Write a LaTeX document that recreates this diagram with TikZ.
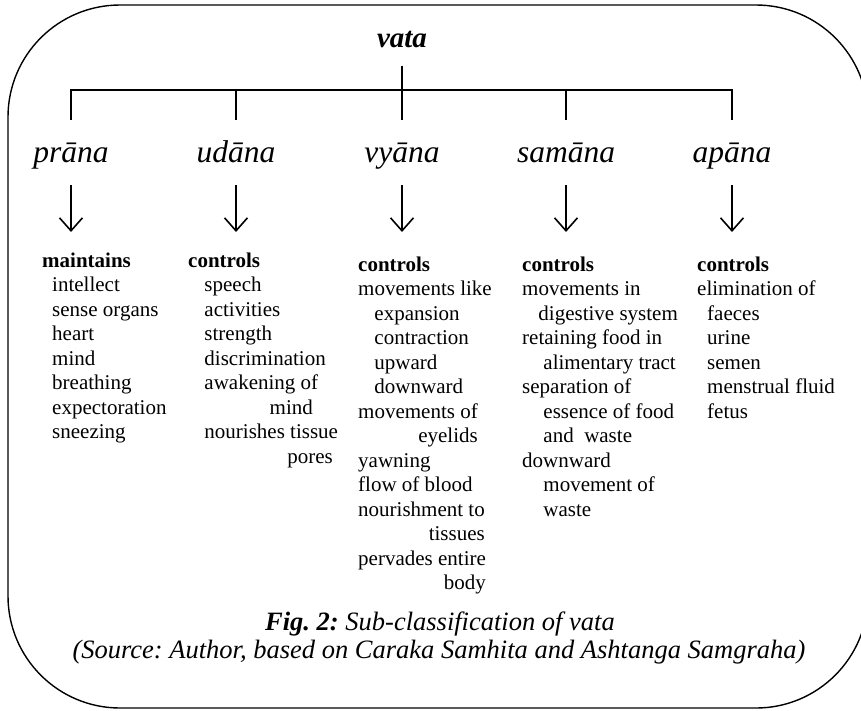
\documentclass[tikz,border=0pt]{standalone}
\usepackage{fontspec}
\setmainfont{Liberation Serif}
\usetikzlibrary{arrows.meta, positioning}
\frenchspacing

\newcommand\listfont{\fontsize{21}{24.5}\selectfont}
\newcommand\namefont{\fontsize{31.5}{36}\selectfont\itshape}
\newcommand\capfont{\fontsize{26.5}{28}\selectfont\itshape}
\newcommand\ind[1][10pt]{\hspace*{#1}}
\newcommand\runon[2]{\hphantom{#1}\llap{#2}}
\newcommand\topline{\rule{0pt}{18pt}}

\begin{document}
\begin{tikzpicture}[
  x=1pt, y=-1pt,
  every node/.style={inner sep=0pt},
  subname/.style={font=\namefont, anchor=base, text height=22pt, text depth=3pt, inner ysep=20pt},
  itemlist/.style={font=\listfont, align=left, anchor=north west},
  stem/.style={line width=1.8pt},
  arr/.style={-{Straight Barb[length=13pt,width=23pt]}, line width=1.6pt}
]
\useasboundingbox (0,0) rectangle (861,710);
\clip (0,0) rectangle (861,710);
\draw[line width=1.4pt, rounded corners=112pt] (8,5) rectangle (868,708);

\node[font=\fontsize{29}{34}\selectfont\bfseries\itshape, anchor=base, inner ysep=3pt] (vata) at (402,47) {vata};
\coordinate (hub) at (402,90);
\coordinate (tips) at (0,232);

\node[subname] (prana)  at (71,162)  {prāna};
\node[subname] (udana)  at (236,162) {udāna};
\node[subname] (vyana)  at (402,162) {vyāna};
\node[subname] (samana) at (566,162) {samāna};
\node[subname] (apana)  at (732,162) {apāna};

\draw[stem] (vata.south) ++(0,15) -- (hub);
\draw[stem] (prana.north) -- (prana.north |- hub) -- (apana.north |- hub) -- (apana.north);
\foreach \n in {udana,vyana,samana}
  \draw[stem] (\n.north) -- (\n.north |- hub);
\foreach \n in {prana,udana,vyana,samana,apana}
  \draw[arr] (\n.south) -- (\n.south |- tips);

% first baselines at 267 and 271
\node[itemlist] (prana-list) at (42,249) {\topline\textbf{maintains}\\
  \ind intellect\\ \ind sense organs\\ \ind heart\\ \ind mind\\
  \ind breathing\\ \ind expectoration\\ \ind sneezing};
\node[itemlist] (udana-list) at (188,249) {\topline\textbf{controls}\\
  \ind[11pt] speech\\ \ind[11pt] activities\\ \ind[11pt] strength\\
  \ind[11pt] discrimination\\ \ind[11pt] awakening of\\
  \ind[11pt]\runon{awakening of}{mind}\\
  \ind[11pt] nourishes tissue\\ \ind[11pt]\runon{nourishes tissue}{pores}};
\node[itemlist] (vyana-list) at (358,253) {\topline\textbf{controls}\\
  movements like\\ \ind[11pt] expansion\\ \ind[11pt] contraction\\
  \ind[11pt] upward\\ \ind[11pt] downward\\
  movements of\\ \runon{movements of}{eyelids}\\
  yawning\\ flow of blood\\
  nourishment to\\ \runon{nourishment to}{tissues}\\
  pervades entire\\ \runon{pervades entire}{body}};
\node[itemlist] (samana-list) at (522,253) {\topline\textbf{controls}\\
  movements in\\ \ind[11pt] digestive system\\
  retaining food in\\ \ind[16pt] alimentary tract\\
  separation of\\ \ind[16pt] essence of food\\ \ind[16pt] and\ \ waste\\
  downward\\ \ind[16pt] movement of\\ \ind[16pt] waste};
\node[itemlist] (apana-list) at (697,253) {\topline\textbf{controls}\\
  elimination of\\ \ind faeces\\ \ind urine\\ \ind semen\\
  \ind menstrual fluid\\ \ind fetus};

\node[font=\capfont, anchor=base] (fig) at (440,630) {\textbf{Fig. 2:} Sub-classification of vata};
\node[font=\capfont, anchor=base] (source) at (439,658) {(Source: Author, based on Caraka Samhita and Ashtanga Samgraha)};
\end{tikzpicture}
\end{document}
